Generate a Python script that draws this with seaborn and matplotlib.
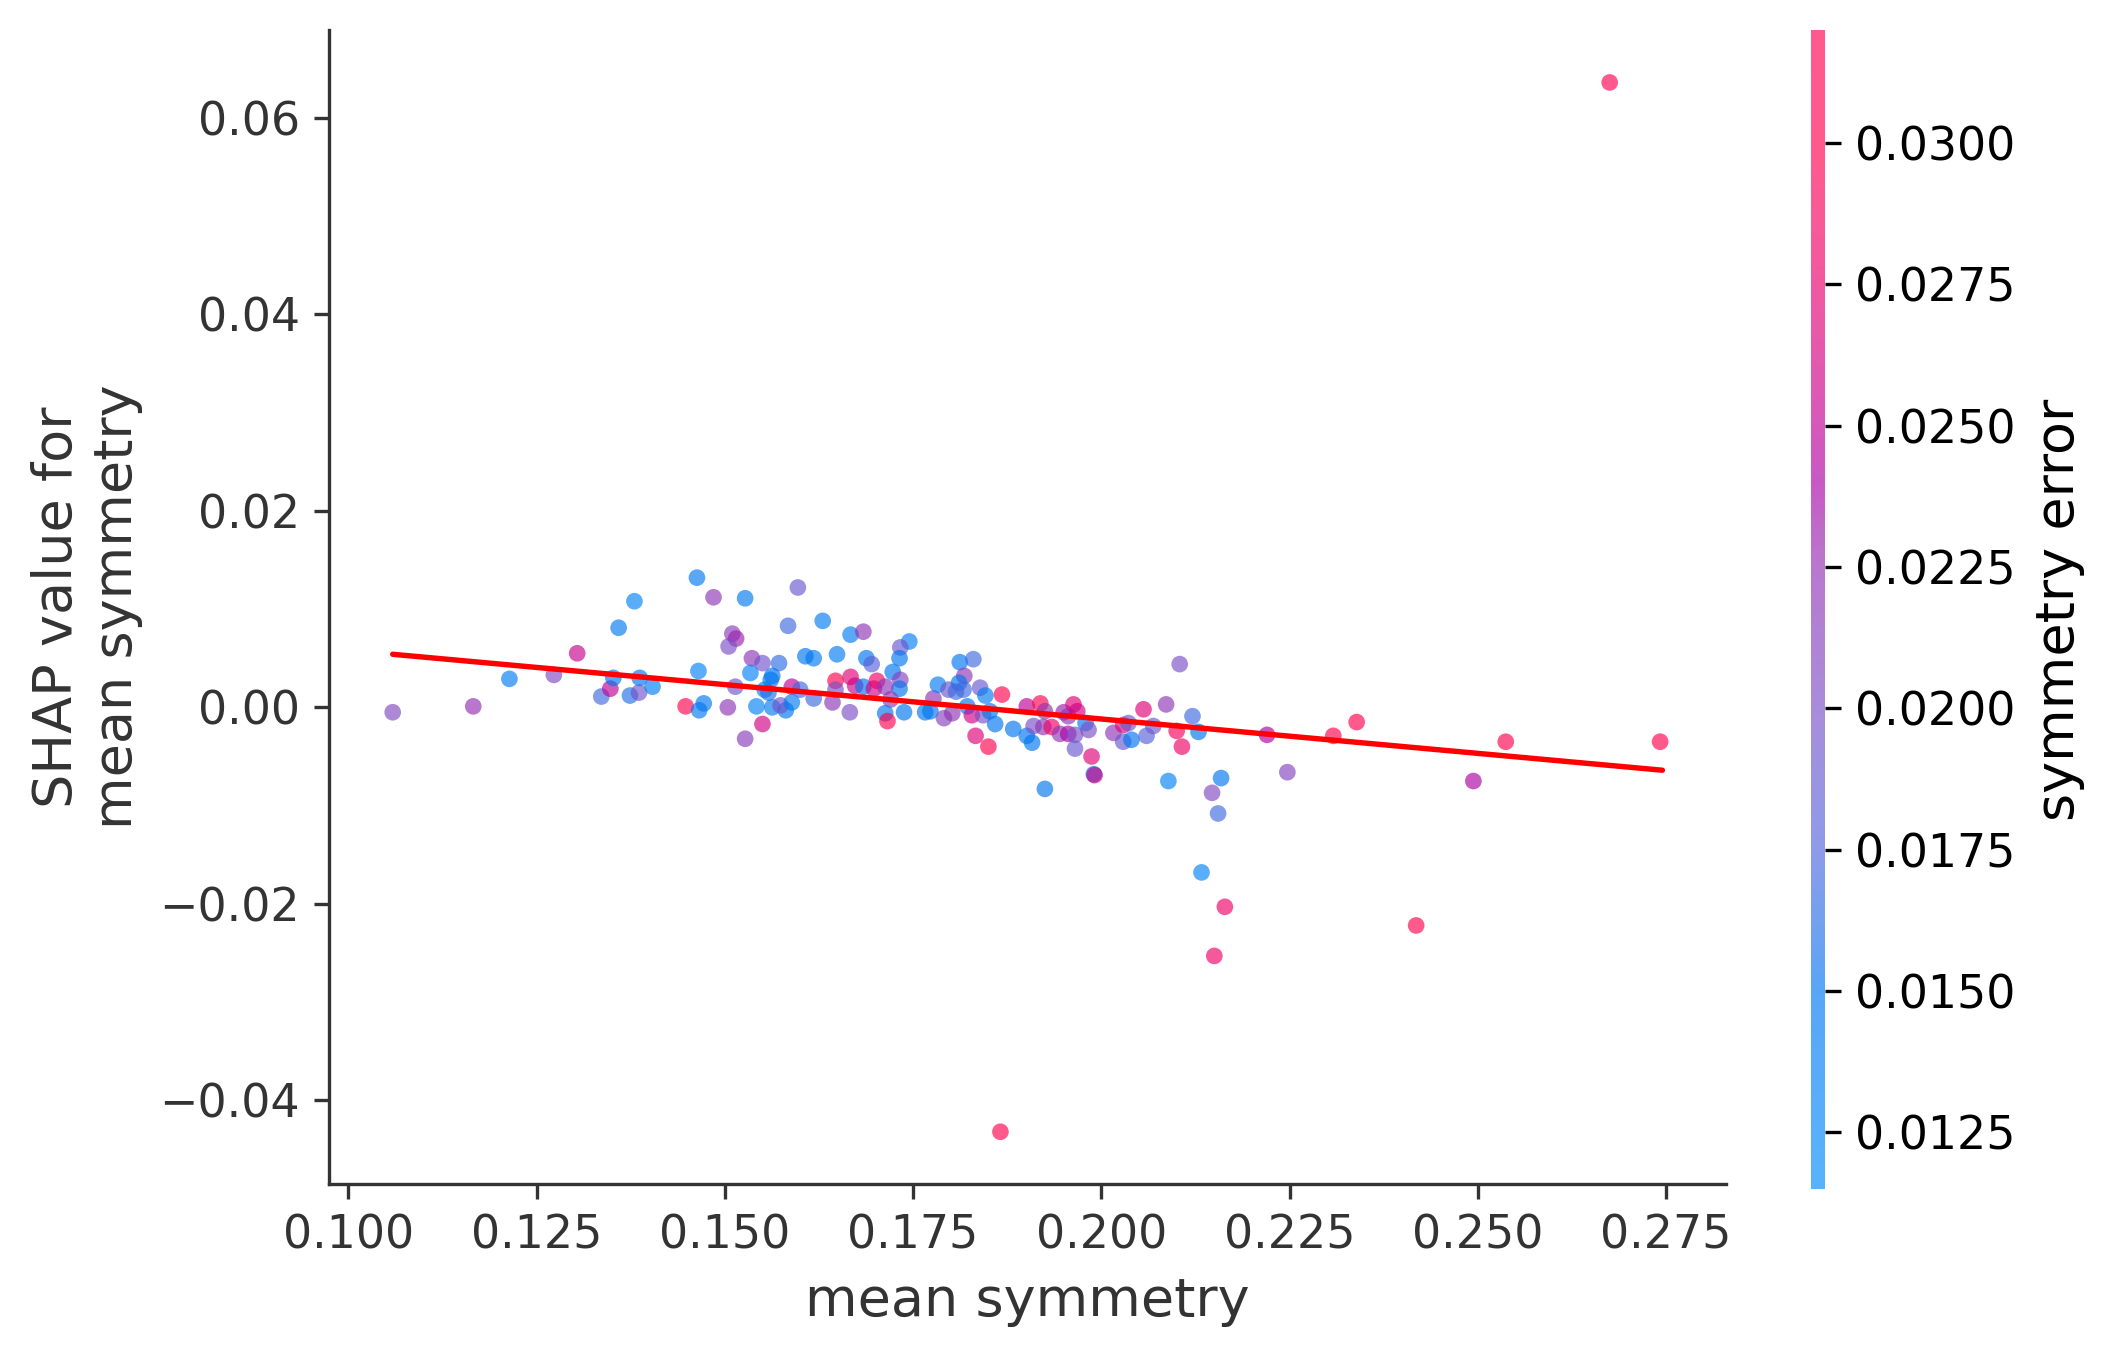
import numpy as np
import pandas as pd
import matplotlib
matplotlib.use("Agg")
import matplotlib.pyplot as plt
from matplotlib.colors import LinearSegmentedColormap, Normalize
from matplotlib.cm import ScalarMappable
import seaborn as sns

# ---------------- data ----------------
mean_symmetry = [
    0.1059, 0.1166, 0.1214, 0.1273, 0.1304, 0.1336, 0.1348, 0.1352, 0.1359, 0.1380,
    0.1374, 0.1386, 0.1387, 0.1404, 0.1448, 0.1465, 0.1463, 0.1472, 0.1466, 0.1485,
    0.1504, 0.1527, 0.1510, 0.1515, 0.1505, 0.1536, 0.1550, 0.1572, 0.1534, 0.1563,
    0.1561, 0.1514, 0.1553, 0.1558, 0.1589, 0.1542, 0.1563, 0.1581, 0.1574, 0.1589,
    0.1527, 0.1550, 0.1597, 0.1584, 0.1607, 0.1618, 0.1630, 0.1649, 0.1667, 0.1684,
    0.1688, 0.1695, 0.1745, 0.1733, 0.1732, 0.1723, 0.1733, 0.1732, 0.1647, 0.1667,
    0.1647, 0.1618, 0.1643, 0.1666, 0.1673, 0.1684, 0.1698, 0.1702, 0.1713, 0.1720,
    0.1713, 0.1716, 0.1738, 0.1766, 0.1773, 0.1777, 0.1783, 0.1791, 0.1797, 0.1802,
    0.1812, 0.1830, 0.1818, 0.1811, 0.1807, 0.1817, 0.1822, 0.1828, 0.1839, 0.1846,
    0.1843, 0.1859, 0.1852, 0.1868, 0.1833, 0.1850, 0.1883, 0.1901, 0.1919, 0.1901,
    0.1908, 0.1910, 0.1925, 0.1923, 0.1934, 0.1925, 0.1945, 0.1950, 0.1963, 0.1956,
    0.1968, 0.1956, 0.1965, 0.1965, 0.1979, 0.1983, 0.1987, 0.1990, 0.1991, 0.2016,
    0.2029, 0.2029, 0.2036, 0.2040, 0.2056, 0.2060, 0.2069, 0.2086, 0.2104, 0.2100,
    0.2107, 0.2121, 0.2129, 0.2089, 0.2159, 0.2147, 0.2220, 0.2247, 0.2308, 0.2339,
    0.2494, 0.2537, 0.2742, 0.2155, 0.2133, 0.2164, 0.2418, 0.2150, 0.2675, 0.1866,
    0.1600,
]
shap_value = [
    -0.0005, 0.0001, 0.0029, 0.0033, 0.0055, 0.0011, 0.0019, 0.0030, 0.0081, 0.0108,
    0.0012, 0.0015, 0.0030, 0.0021, 0.0001, 0.0037, 0.0132, 0.0004, -0.0003, 0.0112,
    0.0000, 0.0111, 0.0075, 0.0070, 0.0062, 0.0050, 0.0045, 0.0045, 0.0035, 0.0032,
    0.0028, 0.0021, 0.0018, 0.0015, 0.0021, 0.0001, 0.0000, -0.0003, 0.0002, 0.0005,
    -0.0032, -0.0017, 0.0122, 0.0083, 0.0052, 0.0050, 0.0088, 0.0054, 0.0074, 0.0077,
    0.0050, 0.0044, 0.0067, 0.0061, 0.0050, 0.0036, 0.0028, 0.0019, 0.0027, 0.0031,
    0.0018, 0.0009, 0.0005, -0.0005, 0.0022, 0.0021, 0.0019, 0.0027, 0.0021, 0.0008,
    -0.0006, -0.0014, -0.0005, -0.0005, -0.0004, 0.0009, 0.0023, -0.0011, 0.0018, -0.0006,
    0.0046, 0.0049, 0.0032, 0.0025, 0.0016, 0.0018, 0.0001, -0.0008, 0.0020, 0.0012,
    -0.0008, -0.0017, -0.0004, 0.0013, -0.0029, -0.0040, -0.0022, 0.0001, 0.0004, -0.0029,
    -0.0036, -0.0019, -0.0004, -0.0020, -0.0020, -0.0083, -0.0027, -0.0005, 0.0003, -0.0009,
    -0.0004, -0.0027, -0.0028, -0.0042, -0.0016, -0.0023, -0.0050, -0.0068, -0.0069, -0.0026,
    -0.0018, -0.0035, -0.0016, -0.0033, -0.0002, -0.0029, -0.0019, 0.0003, 0.0044, -0.0024,
    -0.0040, -0.0009, -0.0025, -0.0075, -0.0072, -0.0087, -0.0028, -0.0066, -0.0029, -0.0015,
    -0.0075, -0.0035, -0.0035, -0.0108, -0.0168, -0.0203, -0.0222, -0.0253, 0.0636, -0.0432,
    0.0018,
]
symmetry_error = [
    0.0205, 0.0225, 0.0140, 0.0205, 0.0255, 0.0170, 0.0250, 0.0150, 0.0145, 0.0130,
    0.0160, 0.0195, 0.0150, 0.0135, 0.0300, 0.0130, 0.0145, 0.0145, 0.0145, 0.0220,
    0.0220, 0.0145, 0.0215, 0.0230, 0.0200, 0.0220, 0.0195, 0.0165, 0.0130, 0.0150,
    0.0150, 0.0195, 0.0140, 0.0160, 0.0250, 0.0130, 0.0140, 0.0150, 0.0195, 0.0140,
    0.0215, 0.0260, 0.0190, 0.0170, 0.0150, 0.0145, 0.0140, 0.0140, 0.0140, 0.0220,
    0.0150, 0.0180, 0.0135, 0.0190, 0.0150, 0.0150, 0.0210, 0.0150, 0.0300, 0.0270,
    0.0200, 0.0170, 0.0220, 0.0200, 0.0260, 0.0150, 0.0260, 0.0280, 0.0220, 0.0220,
    0.0150, 0.0300, 0.0150, 0.0150, 0.0150, 0.0220, 0.0140, 0.0210, 0.0190, 0.0220,
    0.0150, 0.0170, 0.0220, 0.0150, 0.0170, 0.0170, 0.0150, 0.0260, 0.0190, 0.0140,
    0.0200, 0.0150, 0.0150, 0.0300, 0.0270, 0.0300, 0.0150, 0.0250, 0.0300, 0.0150,
    0.0150, 0.0200, 0.0220, 0.0220, 0.0280, 0.0150, 0.0220, 0.0230, 0.0270, 0.0220,
    0.0260, 0.0240, 0.0200, 0.0190, 0.0150, 0.0200, 0.0270, 0.0150, 0.0260, 0.0220,
    0.0270, 0.0190, 0.0190, 0.0150, 0.0270, 0.0180, 0.0190, 0.0220, 0.0200, 0.0290,
    0.0280, 0.0170, 0.0150, 0.0130, 0.0150, 0.0205, 0.0240, 0.0210, 0.0300, 0.0300,
    0.0240, 0.0300, 0.0305, 0.0170, 0.0130, 0.0280, 0.0300, 0.0280, 0.0310, 0.0300,
    0.0170,
]
fit_x = [0.1059, 0.2745]
fit_y = [0.0054, -0.0064]

color_min, color_max = 0.0115, 0.0320
cbar_ticks = [0.0125, 0.0150, 0.0175, 0.0200, 0.0225, 0.0250, 0.0275, 0.0300]

# ---------------- style ----------------
sns.set_theme(style="ticks")
plt.rcParams["font.family"] = ["DejaVu Sans"]
TXT = "#333333"

anchors = [
    (0.00, (0, 138, 250)),
    (0.17, (0, 117, 240)),
    (0.29, (78, 102, 220)),
    (0.415, (123, 78, 198)),
    (0.537, (146, 47, 177)),
    (0.61, (170, 0, 164)),
    (0.66, (192, 0, 148)),
    (0.78, (232, 0, 109)),
    (0.90, (255, 1, 78)),
    (1.00, (255, 0, 82)),
]
ALPHA = 0.65
cmap = LinearSegmentedColormap.from_list(
    "shap_rb", [(p, tuple(c / 255 for c in rgb)) for p, rgb in anchors])
cmap_light = LinearSegmentedColormap.from_list(
    "shap_rb_light",
    [(p, tuple(1 - ALPHA * (1 - c / 255) for c in rgb)) for p, rgb in anchors])
norm = Normalize(vmin=color_min, vmax=color_max)

df = pd.DataFrame({"mean symmetry": mean_symmetry,
                   "shap": shap_value,
                   "symmetry error": symmetry_error})

fig = plt.figure(figsize=(2113 / 300, 1357 / 300), dpi=300)
ax = fig.add_axes([0.1558, 0.1273, 0.6610, 0.8506])
cax = fig.add_axes([0.8571, 0.1238, 0.0066, 0.8541])

sns.scatterplot(data=df, x="mean symmetry", y="shap", hue="symmetry error",
                palette=cmap, hue_norm=norm, s=16, linewidth=0, alpha=ALPHA,
                legend=False, ax=ax, zorder=2)
sns.lineplot(x=fit_x, y=fit_y, color="red", linewidth=1.3, ax=ax, zorder=3)

ax.set_xticks([0.100, 0.125, 0.150, 0.175, 0.200, 0.225, 0.250, 0.275])
ax.set_yticks([-0.04, -0.02, 0.00, 0.02, 0.04, 0.06])
ax.set_xticklabels([f"{v:.3f}" for v in ax.get_xticks()])
ax.set_yticklabels([f"{v:.2f}".replace("-", "\u2212") for v in ax.get_yticks()])
ax.margins(0.05)
ax.set_xlabel("mean symmetry", fontsize=13, color=TXT)
ax.set_ylabel("SHAP value for\nmean symmetry", fontsize=13, color=TXT)
ax.tick_params(axis="both", labelsize=11, labelcolor=TXT, color=TXT,
               length=3.5, width=0.8)
for side in ["top", "right"]:
    ax.spines[side].set_visible(False)
for side in ["left", "bottom"]:
    ax.spines[side].set_color(TXT)
    ax.spines[side].set_linewidth(0.8)

sm = ScalarMappable(norm=norm, cmap=cmap_light)
cb = fig.colorbar(sm, cax=cax, ticks=cbar_ticks)
cb.outline.set_visible(False)
cb.ax.set_yticklabels([f"{t:.4f}" for t in cbar_ticks])
cb.ax.tick_params(labelsize=11, length=3.8, width=0.8, color="black",
                  labelcolor="black")
cb.set_label("symmetry error", fontsize=13, color="black")

fig.savefig("out.png", dpi=300)
